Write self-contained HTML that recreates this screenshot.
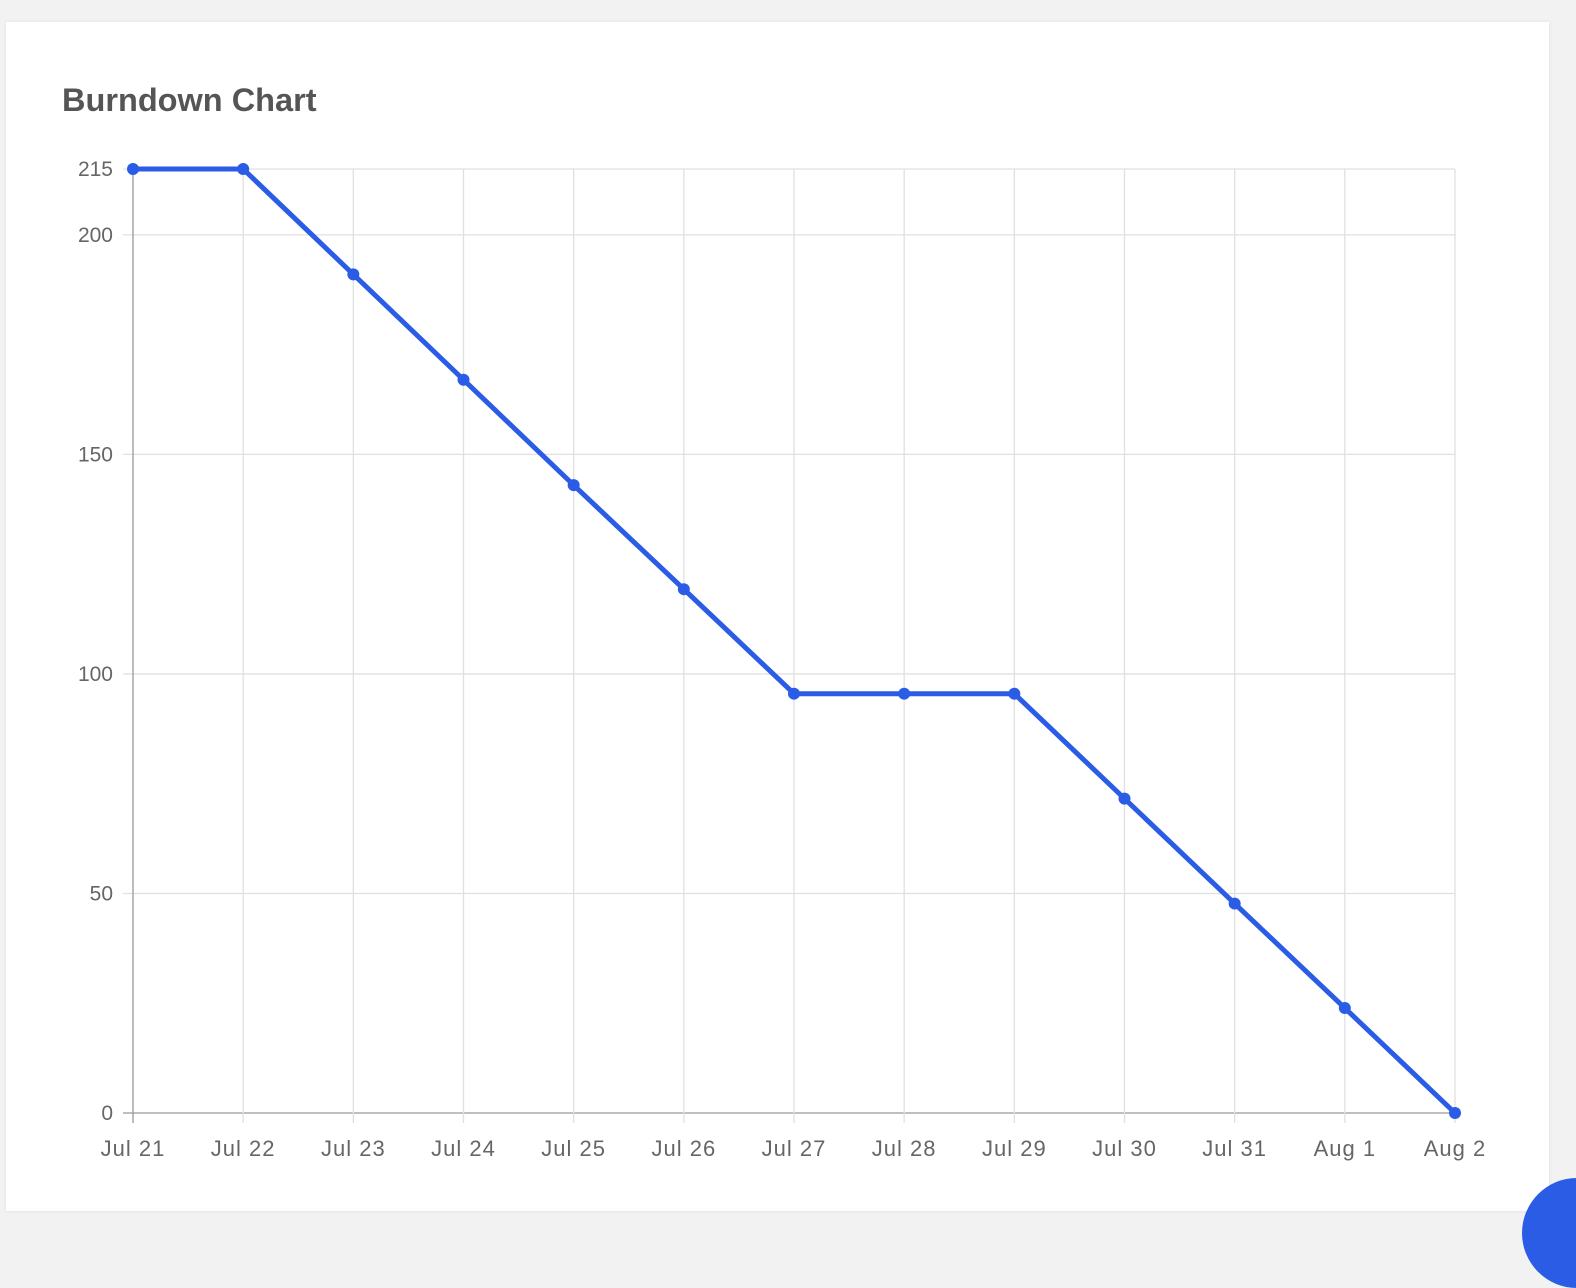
<!DOCTYPE html>
<html><head><meta charset="utf-8">
<style>
html,body{margin:0;padding:0;background:#f2f2f2;width:1576px;height:1224px;overflow:hidden;font-family:"Liberation Sans",sans-serif;}
#card{position:absolute;left:6px;top:22px;width:1543px;height:1189px;background:#fff;box-shadow:0 0 4px rgba(0,0,0,0.08);}
#title{position:absolute;left:62px;top:82px;font-size:32.5px;font-weight:bold;color:#555;}
#fab{position:absolute;left:1522px;top:1178px;width:110px;height:110px;border-radius:50%;background:#2b5ce6;}
</style></head><body>
<div id="card"></div>
<div id="title">Burndown Chart</div>
<svg id="chart" width="1576" height="1224" style="position:absolute;left:0;top:0"></svg>
<div id="fab"></div>
<script>
const categories=["Jul 21","Jul 22","Jul 23","Jul 24","Jul 25","Jul 26","Jul 27","Jul 28","Jul 29","Jul 30","Jul 31","Aug 1","Aug 2"];
const remaining=[215,215,191,167,143,119.3,95.5,95.5,95.5,71.6,47.7,23.9,0];
const yTicks=[0,50,100,150,200,215];
const X0=133,X1=1455,Y0=1113,Y1=169,YMAX=215;
const xs=i=>X0+(X1-X0)*i/(categories.length-1);
const ys=v=>Y0-(Y0-Y1)*v/YMAX;
const svg=document.getElementById('chart');
const NS='http://www.w3.org/2000/svg';
function mk(t,a){const e=document.createElementNS(NS,t);for(const k in a)e.setAttribute(k,a[k]);svg.appendChild(e);return e;}
yTicks.forEach(v=>{
  const g=mk('line',{x1:123,x2:X1,y1:ys(v),y2:ys(v),stroke:v===0?'#999':'#e0e0e0','stroke-width':1.3});
  
  
  const t=mk('text',{x:113,y:ys(v)+7,'text-anchor':'end','font-size':21,fill:'#666','font-family':'Liberation Sans, sans-serif'});
  t.textContent=v;
  
  
});
categories.forEach((c,i)=>{
  const g=mk('line',{x1:xs(i),x2:xs(i),y1:Y1,y2:Y0+10,stroke:i===0?'#999':'#e0e0e0','stroke-width':1.3});
  
  
  const t=mk('text',{x:xs(i),y:1156,'text-anchor':'middle','font-size':22,'letter-spacing':1,fill:'#666','font-family':'Liberation Sans, sans-serif'});
  t.textContent=c;
  
  
});
const pl=mk('polyline',{points:remaining.map((v,i)=>xs(i)+','+ys(v)).join(' '),fill:'none',stroke:'#2b5ce6','stroke-width':5,'stroke-linejoin':'round'});


remaining.forEach((v,i)=>{
  const c=mk('circle',{cx:xs(i),cy:ys(v),r:6,fill:'#2b5ce6'});
  
  
});
</script>
</body></html>
